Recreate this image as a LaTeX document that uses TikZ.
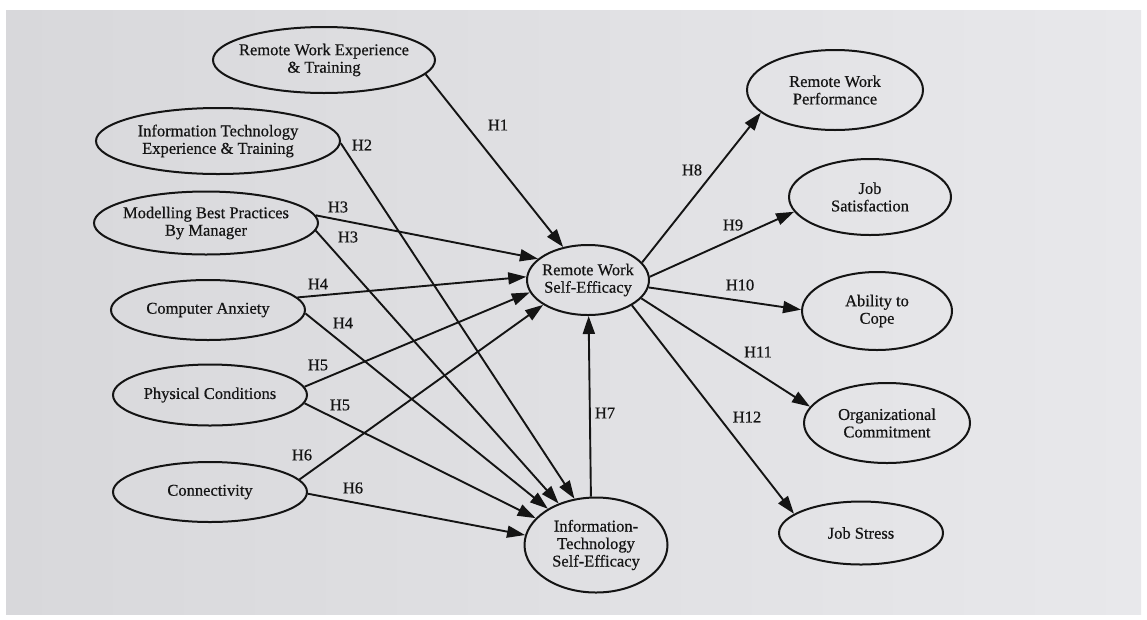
\documentclass[tikz,border=0pt]{standalone}
\usepackage{fontspec}
\setmainfont{Liberation Serif}
\newfontfamily\scanfont{Liberation Serif}[FakeBold=0.5]
\usetikzlibrary{shapes.geometric,arrows.meta}
\definecolor{bgleft}{RGB}{216,216,219}
\definecolor{bgright}{RGB}{232,232,235}
\definecolor{ink}{RGB}{20,20,20}
\begin{document}
\begin{tikzpicture}[x=1pt,y=-1pt,
  ell/.style={ellipse,draw=ink,line width=2pt,inner sep=0pt},
  txt/.style={align=center,text=ink,font=\scanfont\fontsize{16.5}{17.5}\selectfont,inner sep=0pt},
  hl/.style={text=ink,font=\scanfont\fontsize{16.5}{17.5}\selectfont,inner sep=0pt},
  arr/.style={draw=ink,line width=1.9pt,-{Triangle[length=18pt,width=12pt]}}]
\useasboundingbox (0,0) rectangle (1147,619);
\fill[white] (0,0) rectangle (1147,619);
\shade[left color=bgleft,right color=bgright] (6,10) rectangle (1141,614);

% left factors
\node[ell,minimum width=222pt,minimum height=66pt,label={[txt]center:{Remote Work Experience\\\& Training}}] (rwet) at (324,60) {};
\node[ell,minimum width=244pt,minimum height=66pt,label={[txt]center:{Information Technology\\Experience \& Training}}] (itet) at (218,141) {};
\node[ell,minimum width=224pt,minimum height=63pt,label={[txt]center:{Modelling Best Practices\\By Manager}}] (mbp) at (206,223) {};
\node[ell,minimum width=194pt,minimum height=60pt,label={[txt]center:{Computer Anxiety}}] (ca) at (208,310) {};
\node[ell,minimum width=194pt,minimum height=61pt,label={[txt]center:{Physical Conditions}}] (pc) at (210,395) {};
\node[ell,minimum width=194pt,minimum height=60pt,label={[txt]center:{Connectivity}}] (con) at (210,492) {};

% self-efficacy
\node[ell,minimum width=122pt,minimum height=70pt,label={[txt]center:{Remote Work\\Self-Efficacy}}] (rwse) at (588,280) {};
\node[ell,minimum width=143pt,minimum height=95pt,label={[txt]center:{Information-\\Technology\\Self-Efficacy}}] (itse) at (596,545) {};

% outcomes
\node[ell,minimum width=176pt,minimum height=80pt,label={[txt]center:{Remote Work\\Performance}}] (rwp) at (835,90) {};
\node[ell,minimum width=162pt,minimum height=76pt,label={[txt]center:{Job\\Satisfaction}}] (js) at (870,197) {};
\node[ell,minimum width=150pt,minimum height=78pt,label={[txt]center:{Ability to\\Cope}}] (atc) at (877,311) {};
\node[ell,minimum width=166pt,minimum height=80pt,label={[txt]center:{Organizational\\Commitment}}] (oc) at (887,423) {};
\node[ell,minimum width=164pt,minimum height=63pt,label={[txt]center:{Job Stress}}] (jst) at (861,533) {};

% connectors
\draw[arr] (rwet.-8) -- (rwse.127);
\draw[arr] (itet.-1) -- (itse.115);
\draw[arr] (mbp.4) -- (rwse.157);
\draw[arr] (mbp.-4) -- (itse.132);
\draw[arr] (ca.8) -- (rwse.177);
\draw[arr] (ca.-2) -- (itse.143);
\draw[arr] (pc.5) -- (rwse.192);
\draw[arr] (pc.-5) -- (itse.156);
\draw[arr] (con.8) -- (rwse.209);
\draw[arr] (con.-1) -- (itse.172);
\draw[arr] (itse.96) -- (rwse.-89);
\draw[arr] (rwse.18) -- (rwp.197);
\draw[arr] (rwse.3) -- (js.191);
\draw[arr] (rwse.-7) -- (atc.179);
\draw[arr] (rwse.-19) -- (oc.168);
\draw[arr] (rwse.-30) -- (jst.164);

% hypothesis labels
\node[hl] (l1) at (498,125) {H1};
\node[hl] (l2) at (362,145) {H2};
\node[hl] (l3a) at (338,207) {H3};
\node[hl] (l3b) at (348,237) {H3};
\node[hl] (l4a) at (318,284) {H4};
\node[hl] (l4b) at (343,323) {H4};
\node[hl] (l5a) at (318,365) {H5};
\node[hl] (l5b) at (340,405) {H5};
\node[hl] (l6a) at (302,455) {H6};
\node[hl] (l6b) at (353,488) {H6};
\node[hl] (l7) at (605,413) {H7};
\node[hl] (l8) at (692,170) {H8};
\node[hl] (l9) at (733,225) {H9};
\node[hl] (l10) at (740,285) {H10};
\node[hl] (l11) at (758,352) {H11};
\node[hl] (l12) at (747,417) {H12};
\end{tikzpicture}
\end{document}
